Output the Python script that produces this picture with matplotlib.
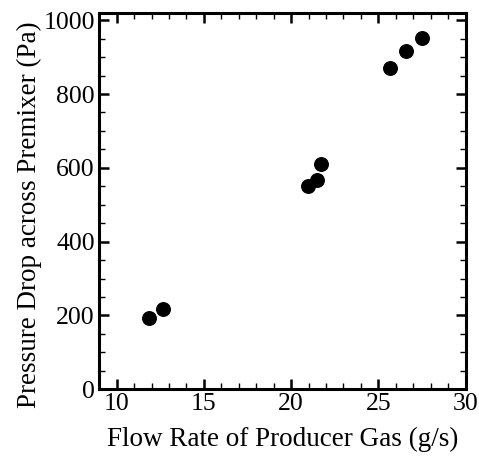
import numpy as np
import matplotlib
matplotlib.use('Agg')
import matplotlib.pyplot as plt
from matplotlib.ticker import MultipleLocator

# flow rate (g/s) vs pressure drop (Pa)
flow = [11.88, 12.68, 20.98, 21.49, 21.69, 25.69, 26.59, 27.49]
dp = [194, 217, 552, 567, 611, 870, 916, 951]

plt.rcParams['font.family'] = ['Liberation Serif', 'DejaVu Serif']

fig = plt.figure(figsize=(4.79, 4.59), dpi=100)
ax = fig.add_axes([0.207, 0.152, 0.765, 0.820])

ax.scatter(flow, dp, s=95, color='black', zorder=3)

ax.set_xlim(9, 30)
ax.set_ylim(0, 1020)
ax.xaxis.set_major_locator(MultipleLocator(5))
ax.xaxis.set_minor_locator(MultipleLocator(1))
ax.yaxis.set_major_locator(MultipleLocator(200))
ax.yaxis.set_minor_locator(MultipleLocator(50))

for sp in ax.spines.values():
    sp.set_linewidth(2.2)
ax.tick_params(which='both', direction='in', top=True, right=True, labelsize=18.5, pad=3)
ax.tick_params(which='major', length=7.5, width=1.8)
ax.tick_params(which='minor', length=4.2, width=1.0)

ax.set_xlabel('Flow Rate of Producer Gas (g/s)', fontsize=19.5, labelpad=8)
ax.set_ylabel('Pressure Drop across Premixer (Pa)', fontsize=19.5)
ax.yaxis.set_label_coords(-0.155, 0.463)

fig.savefig('out.png', dpi=100)
